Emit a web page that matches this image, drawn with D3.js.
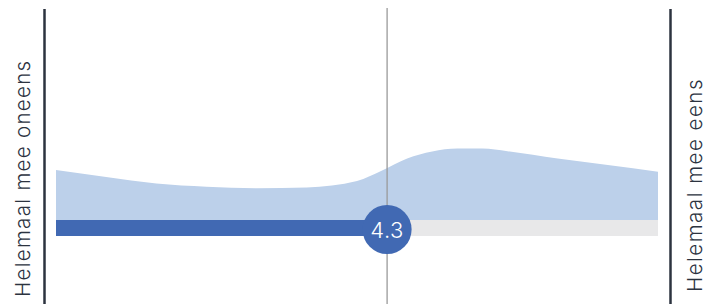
<!DOCTYPE html>
<html>
<head>
<meta charset="utf-8">
<script src="https://cdn.jsdelivr.net/npm/d3@7"></script>
<style>
html,body{margin:0;padding:0;background:#fff;}
svg{display:block;}
</style>
</head>
<body>
<svg id="chart" width="716" height="304"></svg>
<script>
// Scale endpoints (1–7 Likert) and labels
const scaleDomain = [1, 7];
const leftLabel = "Helemaal mee oneens";
const rightLabel = "Helemaal mee eens";
const meanValue = 4.3;
const meanLabel = "4.3";

// Distribution (density)
const densityX = [1, 1.5, 2, 2.5, 3, 3.5, 4, 4.25, 4.5, 4.75, 5, 5.25, 5.5, 6, 6.5, 7];
const densityY = [0.50, 0.43, 0.365, 0.333, 0.318, 0.326, 0.39, 0.495, 0.615, 0.685, 0.715, 0.715, 0.688, 0.615, 0.55, 0.483];

const svg = d3.select("#chart");
const x = d3.scaleLinear().domain(scaleDomain).range([56, 658]);
const y = d3.scaleLinear().domain([0, 1]).range([220, 120]);

const pts = densityX.map((v, i) => [v, densityY[i]]);
const font = "Inter, 'Open Sans', sans-serif";

// density area
svg.append("path")
  .datum(pts)
  .attr("fill", "#bcd0ea")
  .attr("d", d3.area().x(d => x(d[0])).y0(y(0)).y1(d => y(d[1])).curve(d3.curveMonotoneX));

// background bar
svg.append("rect")
  .attr("x", x(scaleDomain[0])).attr("y", 220)
  .attr("width", x(scaleDomain[1]) - x(scaleDomain[0])).attr("height", 16)
  .attr("fill", "#e8e8e9");

// value bar
svg.append("rect")
  .attr("x", x(scaleDomain[0])).attr("y", 220)
  .attr("width", x(meanValue) - x(scaleDomain[0])).attr("height", 16)
  .attr("fill", "#4169b3");

// axis lines
svg.append("line").attr("x1", 44.5).attr("x2", 44.5).attr("y1", 9).attr("y2", 304)
  .attr("stroke", "#2c333f").attr("stroke-width", 2.5);
svg.append("line").attr("x1", 670.5).attr("x2", 670.5).attr("y1", 9).attr("y2", 304)
  .attr("stroke", "#2c333f").attr("stroke-width", 2.5);

// mean line
svg.append("line").attr("x1", x(meanValue)).attr("x2", x(meanValue)).attr("y1", 8).attr("y2", 304)
  .attr("stroke", "#9a9a9a").attr("stroke-width", 1.3);

// mean circle
svg.append("circle").attr("cx", x(meanValue)).attr("cy", 229.5).attr("r", 24.5).attr("fill", "#4169b3");
svg.append("text").attr("x", x(meanValue)).attr("y", 230)
  .attr("text-anchor", "middle").attr("dominant-baseline", "central")
  .attr("fill", "#fff").attr("font-family", font).attr("font-weight", 300)
  .attr("font-size", 22).attr("letter-spacing", 0.5)
  .text(meanLabel);

// side labels
svg.append("text").attr("transform", "translate(29.5,297) rotate(-90)")
  .attr("font-family", font).attr("font-weight", 300).attr("font-size", 20.5)
  .attr("letter-spacing", 1.3).attr("fill", "#2c333f")
  .text(leftLabel);
svg.append("text").attr("transform", "translate(702,292) rotate(-90)")
  .attr("font-family", font).attr("font-weight", 300).attr("font-size", 20.5)
  .attr("letter-spacing", 1.5).attr("fill", "#2c333f")
  .text(rightLabel);
</script>
</body>
</html>
